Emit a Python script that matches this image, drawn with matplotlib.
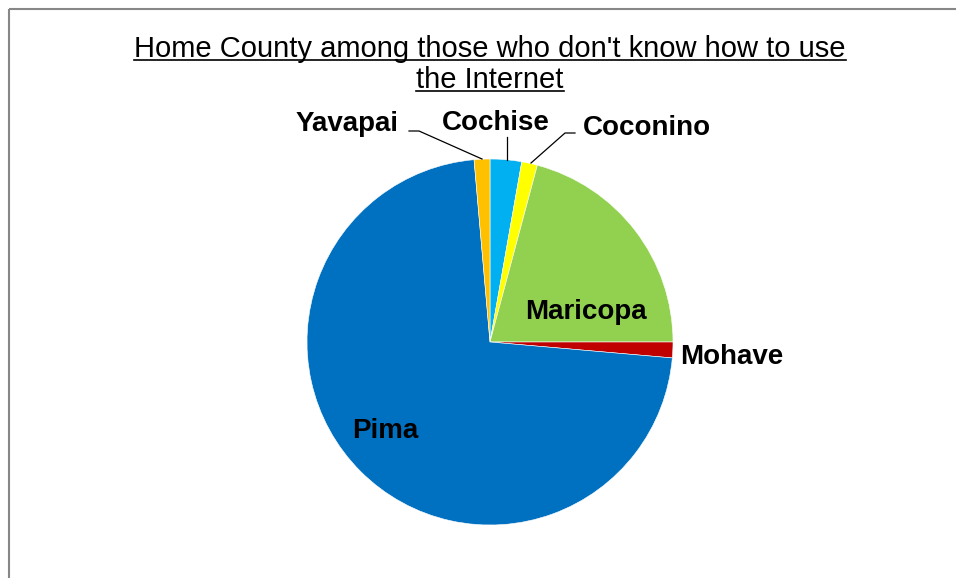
import matplotlib
matplotlib.use("Agg")
import matplotlib.pyplot as plt

# County counts, clockwise from 12 o'clock
counties = ["Cochise", "Coconino", "Maricopa", "Mohave", "Pima", "Yavapai"]
counts = [2, 1, 15, 1, 52, 1]
colors = ["#00B0F0", "#FFFF00", "#92D050", "#C00000", "#0070C0", "#FFC000"]

title_lines = ["Home County among those who don't know how to use", "the Internet"]

W, H = 956, 578
plt.rcParams["font.family"] = ["Liberation Sans", "DejaVu Sans"]

fig = plt.figure(figsize=(W / 100, H / 100), dpi=100)
ax = fig.add_axes([0, 0, 1, 1])


def Y(py):
    # pixel row measured from the top -> data y
    return H - py


ax.pie(counts, colors=colors, startangle=90, counterclock=False,
       center=(490, Y(342)), radius=183,
       wedgeprops=dict(linewidth=0.4, edgecolor="white"))
ax.set_xlim(0, W)
ax.set_ylim(0, H)
ax.set_aspect("auto")
ax.axis("off")

# frame lines along top and left edge
ax.plot([9, W], [Y(9), Y(9)], color="#878787", lw=1.5, solid_capstyle="butt", clip_on=False)
ax.plot([9, 9], [Y(9), 0], color="#878787", lw=1.5, solid_capstyle="butt", clip_on=False)

# underlined title
title_texts = []
for line, base in zip(title_lines, [57, 88]):
    t = ax.text(490, Y(base), line, ha="center", va="baseline", fontsize=21)
    title_texts.append((t, base))
fig.canvas.draw()
for t, base in title_texts:
    bb = t.get_window_extent()
    ax.plot([bb.x0, bb.x1], [Y(base + 3), Y(base + 3)], color="black", lw=1.2)

# slice labels
lab = dict(fontsize=20, fontweight="bold", ha="center", va="center")
ax.text(347, Y(124), "Yavapai", **lab)
ax.text(496, Y(123), "Cochise", **lab)
ax.text(647, Y(128), "Coconino", **lab)
ax.text(586, Y(312), "Maricopa", **lab)
ax.text(732, Y(357), "Mohave", **lab)
ax.text(385, Y(431), "Pima", **lab)

# leader lines
ax.plot([409, 419, 482], [Y(131), Y(131), Y(159)], color="black", lw=0.9)
ax.plot([507, 507], [Y(137), Y(160)], color="black", lw=0.9)
ax.plot([575, 565, 531], [Y(133), Y(133), Y(163)], color="black", lw=0.9)

fig.savefig("out.png", dpi=100)
